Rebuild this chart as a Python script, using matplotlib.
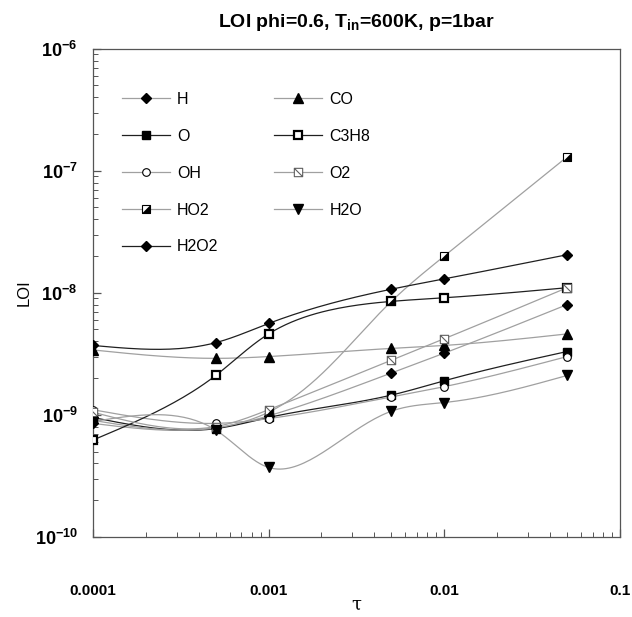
import numpy as np
import matplotlib
matplotlib.use('Agg')
import matplotlib.pyplot as plt
from matplotlib.path import Path
from matplotlib.ticker import FixedLocator, FixedFormatter, LogLocator, NullFormatter
from matplotlib.legend_handler import HandlerTuple

plt.rcParams['font.family'] = 'Liberation Sans'
plt.rcParams['mathtext.fontset'] = 'custom'
plt.rcParams['mathtext.rm'] = 'Liberation Sans:bold'
plt.rcParams['mathtext.bf'] = 'Liberation Sans:bold'

# residence time
tau = [1e-4, 5e-4, 1e-3, 5e-3, 1e-2, 5e-2]

# LOI per species
loi_H = [8.5e-10, 7.8e-10, 9.8e-10, 2.2e-9, 3.2e-9, 8.0e-9]
loi_O = [9.5e-10, 7.7e-10, 9.5e-10, 1.45e-9, 1.9e-9, 3.3e-9]
loi_OH = [1.1e-9, 8.5e-10, 9.3e-10, 1.4e-9, 1.7e-9, 3.0e-9]
loi_HO2 = [9.0e-10, 7.8e-10, 1.05e-9, 8.5e-9, 2.0e-8, 1.3e-7]
loi_H2O2 = [3.7e-9, 3.9e-9, 5.6e-9, 1.07e-8, 1.3e-8, 2.05e-8]
loi_CO = [3.4e-9, 2.9e-9, 3.0e-9, 3.5e-9, 3.7e-9, 4.6e-9]
loi_C3H8 = [6.2e-10, 2.1e-9, 4.6e-9, 8.5e-9, 9.1e-9, 1.1e-8]
loi_O2 = [1.05e-9, 8.0e-10, 1.1e-9, 2.8e-9, 4.2e-9, 1.1e-8]
loi_H2O = [8.8e-10, 7.5e-10, 3.7e-10, 1.07e-9, 1.26e-9, 2.1e-9]

xtick_vals = [1e-4, 1e-3, 1e-2, 1e-1]
xtick_labels = ['0.0001', '0.001', '0.01', '0.1']
ytick_vals = [1e-10, 1e-9, 1e-8, 1e-7, 1e-6]
ytick_labels = [r'$\mathbf{10^{-10}}$', r'$\mathbf{10^{-9}}$', r'$\mathbf{10^{-8}}$',
                r'$\mathbf{10^{-7}}$', r'$\mathbf{10^{-6}}$']


def natural(t, v):
    # second-derivative coefficients of a natural cubic spline v(t)
    k = len(t)
    h = np.diff(t)
    A = np.zeros((k, k))
    r = np.zeros(k)
    A[0, 0] = A[-1, -1] = 1
    for i in range(1, k - 1):
        A[i, i - 1] = h[i - 1]
        A[i, i] = 2 * (h[i - 1] + h[i])
        A[i, i + 1] = h[i]
        r[i] = 3 * ((v[i + 1] - v[i]) / h[i] - (v[i] - v[i - 1]) / h[i - 1])
    c = np.linalg.solve(A, r)
    return h, c


def evaluate(t, v, h, c, n):
    out = []
    for i in range(len(t) - 1):
        b = (v[i + 1] - v[i]) / h[i] - h[i] * (2 * c[i] + c[i + 1]) / 3
        d = (c[i + 1] - c[i]) / (3 * h[i])
        s = np.linspace(0, h[i], n)
        out.append(v[i] + b * s + c[i] * s ** 2 + d * s ** 3)
    return np.concatenate(out)


def smooth(x, y, n=40):
    # parametric spline on the plotted (log-log) frame, chord-length parameter
    lx, ly = np.log10(x), np.log10(y)
    px, py = lx * 176.0, ly * 122.0
    t = np.concatenate([[0], np.cumsum(np.hypot(np.diff(px), np.diff(py)))])
    hx, cx = natural(t, px)
    hy, cy = natural(t, py)
    sx = evaluate(t, px, hx, cx, n) / 176.0
    sy = evaluate(t, py, hy, cy, n) / 122.0
    return 10 ** sx, 10 ** sy


sq = [(-1, -1), (1, -1), (1, 1), (-1, 1), (-1, -1)]
hatched_sq = Path(sq + [(-1, 1), (1, -1)],
                  [Path.MOVETO, Path.LINETO, Path.LINETO, Path.LINETO, Path.CLOSEPOLY,
                   Path.MOVETO, Path.LINETO])
half_tri = Path([(1, 1), (1, -1), (-1, -1), (1, 1)],
                [Path.MOVETO, Path.LINETO, Path.LINETO, Path.CLOSEPOLY])

gray = '#a0a0a0'
dark = '#202020'

fig = plt.figure(figsize=(6.32, 6.17), dpi=100)
ax = fig.add_axes([0.147, 0.13, 0.834, 0.791])
ax.set_xscale('log')
ax.set_yscale('log')


def series(vals, lcolor, marker, ms, mfc='black', mec='black', mew=1.0):
    xs, ys = smooth(tau, vals)
    ax.plot(xs, ys, color=lcolor, lw=0.9, zorder=2)
    ax.plot(tau, vals, ls='none', marker=marker, ms=ms, mfc=mfc, mec=mec, mew=mew, zorder=3)
    h, = ax.plot([], [], color=lcolor, lw=0.9, marker=marker, ms=ms, mfc=mfc, mec=mec, mew=mew)
    return h


h_H = series(loi_H, gray, 'D', 5)
h_O = series(loi_O, dark, 's', 6)
h_OH = series(loi_OH, gray, 'o', 5.5, mfc='white', mec='black', mew=0.8)
h_HO2 = series(loi_HO2, gray, 's', 6, mfc='white', mec='black', mew=0.8)
ax.plot(tau, loi_HO2, ls='none', marker=half_tri, ms=6, mfc='black', mec='black', mew=0.5, zorder=4)
h_HO2_tri, = ax.plot([], [], ls='none', marker=half_tri, ms=6, mfc='black', mec='black', mew=0.5)
h_H2O2 = series(loi_H2O2, dark, 'D', 5)
h_CO = series(loi_CO, gray, '^', 7)
h_C3H8 = series(loi_C3H8, dark, 's', 6, mfc='white', mec='black', mew=1.6)
h_O2 = series(loi_O2, gray, hatched_sq, 6, mfc='white', mec='#606060', mew=0.8)
h_H2O = series(loi_H2O, gray, 'v', 7)

handles = [h_H, h_O, h_OH, (h_HO2, h_HO2_tri), h_H2O2, h_CO, h_C3H8, h_O2, h_H2O]
labels = ['H', 'O', 'OH', 'HO2', 'H2O2', 'CO', 'C3H8', 'O2', 'H2O']
ax.legend(handles, labels, ncol=2, frameon=False, loc='upper left',
          bbox_to_anchor=(0.040, 0.928), borderpad=0, fontsize=11.5,
          handlelength=3.0, handletextpad=0.45, labelspacing=1.37, columnspacing=3.5,
          handler_map={tuple: HandlerTuple(ndivide=1)})

ax.set_xlim(1e-4, 1e-1)
ax.set_ylim(1e-10, 1e-6)
ax.xaxis.set_major_locator(FixedLocator(xtick_vals))
ax.xaxis.set_major_formatter(FixedFormatter(xtick_labels))
ax.yaxis.set_major_locator(FixedLocator(ytick_vals))
ax.yaxis.set_major_formatter(FixedFormatter(ytick_labels))
ax.xaxis.set_minor_locator(LogLocator(base=10, subs=np.arange(2, 10)))
ax.yaxis.set_minor_locator(LogLocator(base=10, subs=np.arange(2, 10)))
ax.xaxis.set_minor_formatter(NullFormatter())
ax.yaxis.set_minor_formatter(NullFormatter())
ax.tick_params(which='both', direction='in', top=False, right=False, color='#555555')
ax.tick_params(which='major', length=6, width=0.9)
ax.tick_params(which='minor', length=3.5, width=0.7)
ax.tick_params(axis='x', which='major', pad=34, labelsize=11)
ax.tick_params(axis='y', which='major', pad=11, labelsize=13)
for lab in ax.get_xticklabels():
    lab.set_fontweight('bold')
for sp in ax.spines.values():
    sp.set_color('#555555')
    sp.set_linewidth(0.9)

ax.set_ylabel('LOI', fontsize=12, labelpad=2)
ax.set_xlabel('τ', fontsize=13, family='DejaVu Serif', labelpad=-2)
ax.set_title(r'LOI phi=0.6, T$_{\mathrm{in}}$=600K, p=1bar', fontsize=14,
             fontweight='bold', pad=16)

fig.savefig('out.png', dpi=100)
